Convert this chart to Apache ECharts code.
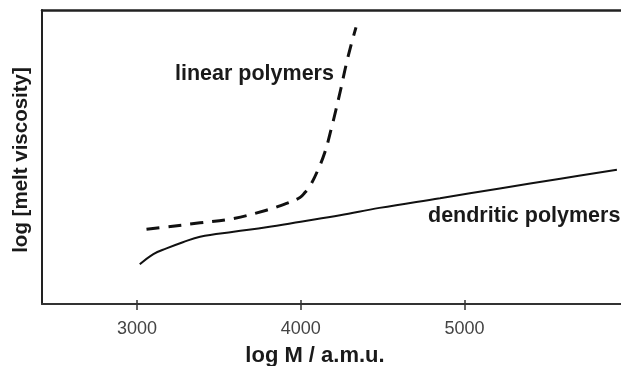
<!DOCTYPE html>
<html>
<head>
<meta charset="utf-8">
<script src="https://cdn.jsdelivr.net/npm/echarts@6/dist/echarts.min.js"></script>
<style>
html,body{margin:0;padding:0;background:#fff;}
#chart{width:621px;height:366px;}
</style>
</head>
<body>
<div id="chart"></div>
<script>
// Data (x: log M / a.m.u., y: relative log viscosity units)
var dendriticX = [3017, 3100, 3180, 3280, 3385, 3590, 3790, 4000, 4240, 4480, 4850, 5215, 5585, 5930];
var dendriticY = [13.5, 17.0, 18.9, 21.0, 22.9, 24.6, 26.1, 28.0, 30.2, 32.7, 36.0, 39.3, 42.6, 45.7];
var linearX = [3058, 3180, 3385, 3590, 3790, 3913, 3995, 4025, 4056, 4104, 4147, 4184, 4214, 4245, 4276, 4306, 4337];
var linearY = [25.4, 26.2, 27.6, 29.1, 31.9, 34.2, 36.2, 37.9, 40.1, 45.5, 51.6, 59.1, 65.9, 73.3, 81.2, 87.9, 94.1];
var xTicks = [3000, 4000, 5000];
var xName = 'log M / a.m.u.';
var yName = 'log [melt viscosity]';
var linearLabel = 'linear polymers';
var dendriticLabel = 'dendritic polymers';

function pairs(xs, ys) { return xs.map(function (x, i) { return [x, ys[i]]; }); }

var chart = echarts.init(document.getElementById('chart'), null, {renderer: 'canvas'});
var xMin = 2420, xMax = 5955;
var FONT = 'Liberation Sans, Arial';
chart.setOption({
  animation: false,
  backgroundColor: '#fff',
  grid: {left: 42, right: 0, top: 10, bottom: 62, containLabel: false, outerBoundsMode: 'none'},
  xAxis: [
    {
      type: 'value', position: 'bottom', min: xMin, max: xMax,
      name: xName, nameLocation: 'middle', nameGap: 41,
      nameTextStyle: {fontFamily: FONT, fontWeight: 'bold', fontSize: 22, color: '#1a1a1a', padding: [0, 33, 0, 0]},
      axisLine: {show: true, lineStyle: {color: '#333', width: 2}},
      axisTick: {show: true, inside: false, length: 6, customValues: xTicks, lineStyle: {color: '#333', width: 1.5}},
      axisLabel: {show: true, customValues: xTicks, margin: 16, fontFamily: FONT, fontSize: 18, color: '#444',
        formatter: function (v) { return String(v); }},
      splitLine: {show: false}
    },
    {
      type: 'value', position: 'bottom', min: xMin, max: xMax,
      axisLine: {show: false},
      axisTick: {show: true, inside: true, length: 4, customValues: xTicks, lineStyle: {color: '#333', width: 1.5}},
      axisLabel: {show: false},
      splitLine: {show: false}
    },
    {
      type: 'value', position: 'top', min: xMin, max: xMax,
      axisLine: {show: true, lineStyle: {color: '#222', width: 2.5}},
      axisTick: {show: false}, axisLabel: {show: false}, splitLine: {show: false}
    }
  ],
  yAxis: {
    type: 'value', min: 0, max: 100,
    name: yName, nameLocation: 'middle', nameGap: 10,
    nameTextStyle: {fontFamily: FONT, fontWeight: 'bold', fontSize: 20.5, color: '#1a1a1a', padding: [0, 6, 0, 0]},
    axisLine: {show: true, lineStyle: {color: '#222', width: 2}},
    axisTick: {show: false}, axisLabel: {show: false}, splitLine: {show: false}
  },
  series: [
    {
      name: dendriticLabel, type: 'line', xAxisIndex: 0, data: pairs(dendriticX, dendriticY),
      smooth: 0.4, showSymbol: false, symbol: 'none',
      lineStyle: {color: '#111', width: 2, type: 'solid'}
    },
    {
      name: linearLabel, type: 'line', xAxisIndex: 0, data: pairs(linearX, linearY),
      smooth: 0.4, showSymbol: false, symbol: 'none',
      lineStyle: {color: '#111', width: 3, type: [13, 9]}
    }
  ],
  graphic: [
    {type: 'text', left: 175, top: 63, style: {text: linearLabel, fontFamily: FONT, fontWeight: 'bold', fontSize: 21.5, fill: '#1a1a1a'}},
    {type: 'text', left: 428, top: 205, style: {text: dendriticLabel, fontFamily: FONT, fontWeight: 'bold', fontSize: 21.5, fill: '#1a1a1a'}}
  ]
});
</script>
</body>
</html>
